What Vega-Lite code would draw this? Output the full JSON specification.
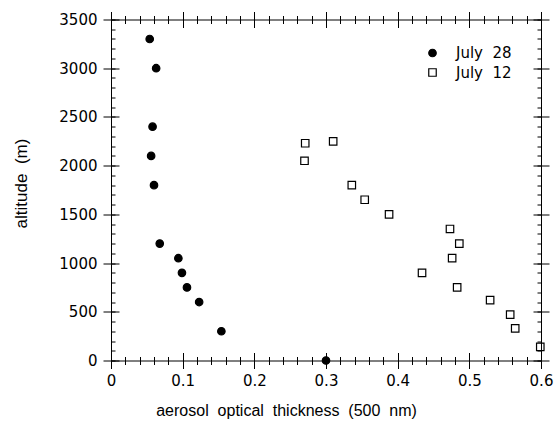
{
  "$schema": "https://vega.github.io/schema/vega-lite/v6.json",
  "width": 430,
  "height": 341,
  "autosize": "none",
  "padding": {"left": 111, "top": 19.5, "right": 14, "bottom": 61.5},
  "background": "white",
  "config": {
    "view": {"stroke": null},
    "axis": {"grid": false, "domainColor": "black", "tickColor": "black", "labelColor": "black", "titleColor": "black", "labelFont": "DejaVu Sans", "titleFont": "Liberation Sans", "titleFontWeight": "normal", "tickWidth": 1, "domainWidth": 1, "labelFlush": false, "labelOverlap": false},
    "legend": {"orient": "none", "title": null, "padding": 0, "labelFontSize": 15, "labelFont": "DejaVu Sans", "labelColor": "black", "labelOffset": 16, "symbolSize": 56, "symbolStrokeWidth": 1.2}
  },
  "data": {"values": [
    {"aot": 0.054, "alt": 3300, "day": "July 28"},
    {"aot": 0.063, "alt": 3000, "day": "July 28"},
    {"aot": 0.058, "alt": 2400, "day": "July 28"},
    {"aot": 0.056, "alt": 2100, "day": "July 28"},
    {"aot": 0.060, "alt": 1800, "day": "July 28"},
    {"aot": 0.068, "alt": 1200, "day": "July 28"},
    {"aot": 0.094, "alt": 1050, "day": "July 28"},
    {"aot": 0.099, "alt": 900, "day": "July 28"},
    {"aot": 0.106, "alt": 750, "day": "July 28"},
    {"aot": 0.123, "alt": 600, "day": "July 28"},
    {"aot": 0.154, "alt": 300, "day": "July 28"},
    {"aot": 0.300, "alt": 0, "day": "July 28"},
    {"aot": 0.271, "alt": 2230, "day": "July 12"},
    {"aot": 0.310, "alt": 2250, "day": "July 12"},
    {"aot": 0.270, "alt": 2050, "day": "July 12"},
    {"aot": 0.336, "alt": 1800, "day": "July 12"},
    {"aot": 0.354, "alt": 1650, "day": "July 12"},
    {"aot": 0.388, "alt": 1500, "day": "July 12"},
    {"aot": 0.473, "alt": 1350, "day": "July 12"},
    {"aot": 0.486, "alt": 1200, "day": "July 12"},
    {"aot": 0.476, "alt": 1050, "day": "July 12"},
    {"aot": 0.434, "alt": 900, "day": "July 12"},
    {"aot": 0.483, "alt": 750, "day": "July 12"},
    {"aot": 0.529, "alt": 620, "day": "July 12"},
    {"aot": 0.557, "alt": 470, "day": "July 12"},
    {"aot": 0.564, "alt": 330, "day": "July 12"},
    {"aot": 0.599, "alt": 140, "day": "July 12"}
  ]},
  "layer": [
    {
      "transform": [{"filter": "datum.day === 'July 28'"}],
      "mark": {"type": "point", "filled": true, "opacity": 1, "size": 56, "fill": "black", "stroke": "black", "strokeWidth": 1.2},
      "encoding": {
        "x": {"field": "aot", "type": "quantitative", "scale": {"domain": [0, 0.6], "nice": false},
          "axis": {"orient": "bottom", "values": [0,0.02,0.04,0.06,0.08,0.1,0.12,0.14,0.16,0.18,0.2,0.22,0.24,0.26,0.28,0.3,0.32,0.34,0.36,0.38,0.4,0.42,0.44,0.46,0.48,0.5,0.52,0.54,0.56,0.58,0.6],
            "tickSize": {"condition": {"test": "abs(datum.value*10-round(datum.value*10))<1e-6", "value": 8}, "value": 4},
            "labelExpr": "abs(datum.value*10-round(datum.value*10))<1e-6 ? format(datum.value,'~g') : ''",
            "labelFontSize": 15, "labelPadding": 5,
            "title": "aerosol\u00a0 optical\u00a0 thickness\u00a0 (500\u00a0 nm)", "titleFontSize": 16,
            "titleX": 175, "titleY": 54.5, "titleBaseline": "alphabetic", "titleAlign": "center"}},
        "y": {"field": "alt", "type": "quantitative", "scale": {"domain": [0, 3500], "nice": false},
          "axis": {"orient": "left", "values": [0,500,1000,1500,2000,2500,3000,3500], "format": "d", "tickSize": 8,
            "labelFontSize": 15, "labelPadding": 6,
            "title": "altitude\u00a0 (m)", "titleFontSize": 17, "titleX": -85, "titleY": 163.5, "titleAngle": -90, "titleBaseline": "alphabetic", "titleAlign": "center"}},
        "shape": {"field": "day", "type": "nominal", "scale": {"domain": ["July 28"], "range": ["circle"]},
          "legend": {"legendX": 314, "legendY": 26, "labelExpr": "replace(datum.label,' ','\u00a0 ')"}}
      }
    },
    {
      "transform": [{"filter": "datum.day === 'July 12'"}],
      "mark": {"type": "point", "filled": false, "opacity": 1, "size": 56, "stroke": "black", "strokeWidth": 1.2},
      "encoding": {
        "x": {"field": "aot", "type": "quantitative", "axis": null},
        "y": {"field": "alt", "type": "quantitative", "axis": null},
        "shape": {"field": "day", "type": "nominal", "scale": {"domain": ["July 12"], "range": ["square"]},
          "legend": {"legendX": 314, "legendY": 45.5, "labelExpr": "replace(datum.label,' ','\u00a0 ')"}}
      }
    },
    {
      "mark": {"type": "point", "opacity": 0},
      "encoding": {
        "x": {"field": "aot", "type": "quantitative",
          "axis": {"orient": "bottom", "offset": -8, "values": [0,0.1,0.2,0.3,0.4,0.5,0.6], "tickSize": 8,
            "labels": false, "domain": false, "title": null}},
        "y": {"field": "alt", "type": "quantitative",
          "axis": {"orient": "left", "offset": -8, "values": [0,500,1000,1500,2000,2500,3000,3500], "tickSize": 8,
            "labels": false, "domain": false, "title": null}}
      }
    },
    {
      "mark": {"type": "point", "opacity": 0},
      "encoding": {
        "x": {"field": "aot", "type": "quantitative",
          "axis": {"orient": "bottom", "offset": -4, "values": [0,0.02,0.04,0.06,0.08,0.1,0.12,0.14,0.16,0.18,0.2,0.22,0.24,0.26,0.28,0.3,0.32,0.34,0.36,0.38,0.4,0.42,0.44,0.46,0.48,0.5,0.52,0.54,0.56,0.58,0.6], "tickSize": 4,
            "labels": false, "domain": false, "title": null}},
        "y": {"field": "alt", "type": "quantitative",
          "axis": {"orient": "left", "offset": -4, "values": [0,100,200,300,400,500,600,700,800,900,1000,1100,1200,1300,1400,1500,1600,1700,1800,1900,2000,2100,2200,2300,2400,2500,2600,2700,2800,2900,3000,3100,3200,3300,3400,3500], "tickSize": 4,
            "labels": false, "domain": false, "title": null}}
      }
    },
    {
      "mark": {"type": "point", "opacity": 0},
      "encoding": {
        "x": {"field": "aot", "type": "quantitative",
          "axis": {"orient": "top", "values": [0,0.02,0.04,0.06,0.08,0.1,0.12,0.14,0.16,0.18,0.2,0.22,0.24,0.26,0.28,0.3,0.32,0.34,0.36,0.38,0.4,0.42,0.44,0.46,0.48,0.5,0.52,0.54,0.56,0.58,0.6],
            "tickSize": {"condition": {"test": "abs(datum.value*10-round(datum.value*10))<1e-6", "value": 8}, "value": 4},
            "labels": false, "title": null}},
        "y": {"field": "alt", "type": "quantitative",
          "axis": {"orient": "right", "values": [0,500,1000,1500,2000,2500,3000,3500], "tickSize": 8,
            "labels": false, "title": null}}
      }
    },
    {
      "mark": {"type": "point", "opacity": 0},
      "encoding": {
        "x": {"field": "aot", "type": "quantitative",
          "axis": {"orient": "top", "offset": -8, "values": [0,0.1,0.2,0.3,0.4,0.5,0.6], "tickSize": 8,
            "labels": false, "domain": false, "title": null}},
        "y": {"field": "alt", "type": "quantitative",
          "axis": {"orient": "right", "offset": -8, "values": [0,500,1000,1500,2000,2500,3000,3500], "tickSize": 8,
            "labels": false, "domain": false, "title": null}}
      }
    },
    {
      "mark": {"type": "point", "opacity": 0},
      "encoding": {
        "x": {"field": "aot", "type": "quantitative",
          "axis": {"orient": "top", "offset": -4, "values": [0,0.02,0.04,0.06,0.08,0.1,0.12,0.14,0.16,0.18,0.2,0.22,0.24,0.26,0.28,0.3,0.32,0.34,0.36,0.38,0.4,0.42,0.44,0.46,0.48,0.5,0.52,0.54,0.56,0.58,0.6], "tickSize": 4,
            "labels": false, "domain": false, "title": null}},
        "y": {"field": "alt", "type": "quantitative",
          "axis": {"orient": "right", "offset": -4, "values": [0,100,200,300,400,500,600,700,800,900,1000,1100,1200,1300,1400,1500,1600,1700,1800,1900,2000,2100,2200,2300,2400,2500,2600,2700,2800,2900,3000,3100,3200,3300,3400,3500], "tickSize": 4,
            "labels": false, "domain": false, "title": null}}
      }
    }
  ],
  "resolve": {"axis": {"x": "independent", "y": "independent"}, "scale": {"shape": "independent"}, "legend": {"shape": "independent"}}
}
